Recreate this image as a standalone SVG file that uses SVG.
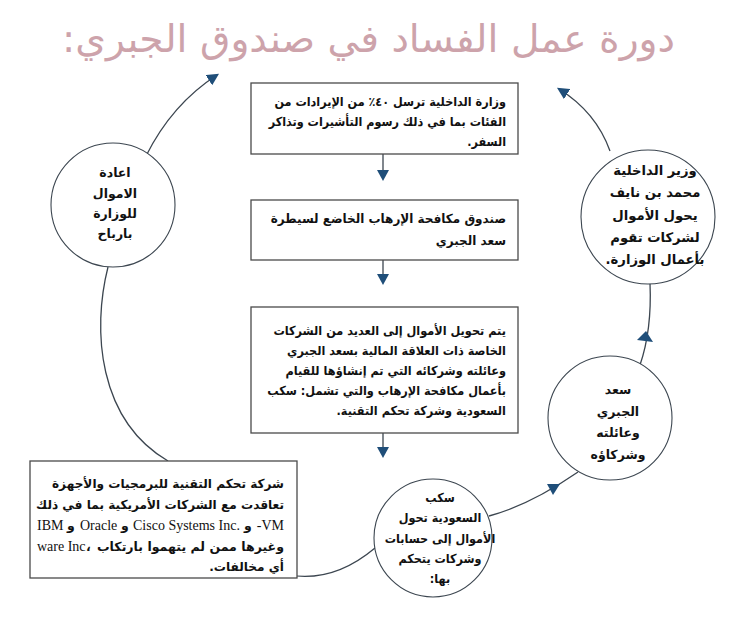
<svg xmlns="http://www.w3.org/2000/svg" width="729" height="625" viewBox="0 0 729 625">
<style>
.box{fill:#fff;stroke:#4a4a4a;stroke-width:1.3}
.cir{fill:#fff;stroke:#3c4650;stroke-width:1.1}
.ln{fill:none;stroke:#3c4650;stroke-width:1.3}
.ah{fill:#1f4e79}
.t{font-family:"DejaVu Sans",sans-serif;font-weight:bold;font-size:12.5px;fill:#111}
.r{direction:rtl;text-anchor:start}
.c{text-anchor:middle;direction:rtl}
.lat{font-family:"Liberation Serif","DejaVu Sans",serif;font-size:14px;fill:#111}
.title{font-family:"DejaVu Sans",sans-serif;font-size:38px;fill:#cda3ab;direction:rtl;text-anchor:start}
.big{font-size:13.2px}
</style>
<defs>
<marker id="arr" viewBox="0 0 10 10" refX="8" refY="5" markerWidth="12" markerHeight="12" markerUnits="userSpaceOnUse" orient="auto">
<path d="M0,0 L10,5 L0,10 Z" class="ah"/>
</marker>
</defs>
<rect width="729" height="625" fill="#fff"/>
<text class="title" x="675" y="52" textLength="613" lengthAdjust="spacingAndGlyphs">دورة عمل الفساد في صندوق الجبري:</text>
<g id="connectors">
<path class="ln" d="M383,153 V172"/>
<polygon class="ah" points="377,170 389,170 383,181"/>
<path class="ln" d="M383,260 V276"/>
<polygon class="ah" points="377,274 389,274 383,285"/>
<path class="ln" d="M383,433 V449"/>
<polygon class="ah" points="377,447 389,447 383,458"/>
<path class="ln" d="M146,156 Q172,104 217,75" marker-end="url(#arr)"/>
<path class="ln" d="M610,151 Q596,112 559,89" marker-end="url(#arr)"/>
<path class="ln" d="M640,365 Q652,330 650,283"/>
<polygon class="ah" points="646,331 637,340 653,342"/>
<path class="ln" d="M489,516 Q530,505 578,472"/>
<polygon class="ah" points="560,484 553,495 547,484"/>
<path class="ln" d="M108,267 C92,330 98,420 168,461"/>
<path class="ln" d="M270,570 Q325,590 375,548"/>
</g>
<g id="box1">
<rect class="box" x="251" y="83" width="267" height="71"/>
<g transform="matrix(0.9 0 0 1 50.6 0)">
<text class="t r" x="506" y="106">وزارة الداخلية ترسل ٤٠٪ من الإيرادات من</text>
<text class="t r" x="506" y="126">الفئات بما في ذلك رسوم التأشيرات وتذاكر</text>
<text class="t r" x="506" y="146">السفر.</text>
</g>
</g>
<g id="box2">
<rect class="box" x="251" y="200" width="267" height="60"/>
<g transform="matrix(0.96 0 0 1 20.24 0)">
<text class="t r" x="506" y="223">صندوق مكافحة الإرهاب الخاضع  لسيطرة</text>
<text class="t r" x="506" y="245">سعد الجبري</text>
</g>
</g>
<g id="box3">
<rect class="box" x="251" y="307" width="267" height="126"/>
<g transform="matrix(0.906 0 0 1 47.56 0)">
<text class="t r" x="506" y="335">يتم تحويل الأموال إلى العديد من الشركات</text>
<text class="t r" x="506" y="355">الخاصة ذات العلاقة المالية بسعد الجبري</text>
<text class="t r" x="506" y="375">وعائلته وشركائه التي تم إنشاؤها للقيام</text>
<text class="t r" x="506" y="395">بأعمال مكافحة الإرهاب والتي تشمل: سكب</text>
<text class="t r" x="506" y="415">السعودية وشركة تحكم التقنية.</text>
</g>
</g>
<g id="box4">
<rect class="box" x="30" y="461" width="267" height="117"/>
<g transform="matrix(0.97 0 0 1 8.52 0)">
<text class="t r" x="284" y="488">شركة تحكم التقنية للبرمجيات والأجهزة</text>
<text class="t r" x="284" y="509">تعاقدت مع الشركات الأمريكية بما في ذلك</text>
<text class="t r" x="284" y="571">أي مخالفات.</text>
</g>
<text class="t r" x="284" y="551" textLength="187" lengthAdjust="spacingAndGlyphs">وغيرها ممن لم يتهموا بارتكاب</text>
<text class="lat" x="37" y="530">IBM</text>
<text class="t" x="67" y="530">و</text>
<text class="lat" x="80" y="530">Oracle</text>
<text class="t" x="121" y="530">و</text>
<text class="lat" x="133" y="530">Cisco Systems Inc.</text>
<text class="t" x="244" y="530">و</text>
<text class="lat" x="284" y="530" text-anchor="end">-VM</text>
<text class="lat" x="37" y="551">ware Inc</text>
<text class="t" x="86" y="551">،</text>
</g>
<g id="circle-left">
<circle class="cir" cx="113" cy="205" r="62"/>
<text class="t c" x="115" y="177">اعادة</text>
<text class="t c" x="115" y="198">الاموال</text>
<text class="t c" x="115" y="218">للوزارة</text>
<text class="t c" x="115" y="238">بارباح</text>
</g>
<g id="circle-topright">
<circle class="cir" cx="648" cy="217" r="67"/>
<text class="t c big" x="655" y="175">وزير الداخلية</text>
<text class="t c big" x="655" y="197">محمد بن نايف</text>
<text class="t c big" x="655" y="220">يحول الأموال</text>
<text class="t c big" x="655" y="242">لشركات تقوم</text>
<text class="t c big" x="655" y="264">بأعمال الوزارة.</text>
</g>
<g id="circle-mid">
<circle class="cir" cx="610" cy="418" r="62"/>
<text class="t c" x="618" y="394">سعد</text>
<text class="t c" x="618" y="416">الجبري</text>
<text class="t c" x="618" y="437">وعائلته</text>
<text class="t c" x="618" y="459">وشركاؤه</text>
</g>
<g id="circle-bottom">
<circle class="cir" cx="433" cy="538" r="59"/>
<g transform="matrix(0.9 0 0 1 44 0)">
<text class="t c" x="440" y="502">سكب</text>
<text class="t c" x="440" y="522">السعودية تحول</text>
<text class="t c" x="440" y="543">الأموال إلى حسابات</text>
<text class="t c" x="440" y="563">وشركات يتحكم</text>
<text class="t c" x="440" y="583">بها:</text>
</g>
</g>
</svg>
